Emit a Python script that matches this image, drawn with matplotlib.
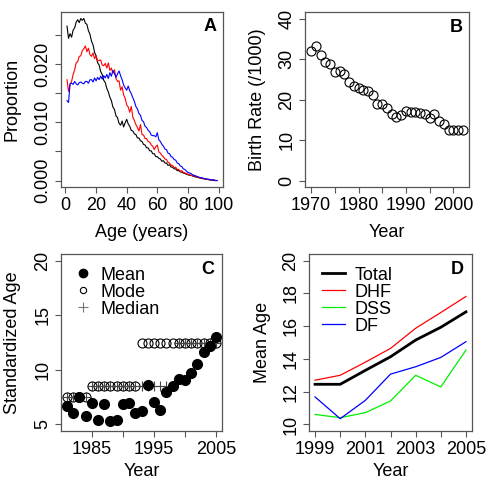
import matplotlib
matplotlib.use("Agg")
import matplotlib.pyplot as plt
import numpy as np
from matplotlib.lines import Line2D

plt.rcParams['font.family'] = ['Liberation Sans', 'DejaVu Sans']
plt.rcParams['font.size'] = 13

# panel A : age distribution (proportion by age)
ages = list(range(1, 100))
prop_black = [0.0265, 0.0244, 0.0252, 0.0246, 0.0258, 0.0262, 0.0272, 0.0276, 0.0271, 0.0278,
              0.0275, 0.0278, 0.0270, 0.0268, 0.0257, 0.0251, 0.0239, 0.0233, 0.0220, 0.0214,
              0.0202, 0.0198, 0.0187, 0.0182, 0.0172, 0.0168, 0.0158, 0.0152, 0.0143, 0.0137,
              0.0126, 0.0122, 0.0111, 0.0108, 0.0098, 0.0095, 0.0102, 0.0092, 0.0099, 0.0105,
              0.0097, 0.0093, 0.0086, 0.0085, 0.0080, 0.0079, 0.0073, 0.0073, 0.0068, 0.0067,
              0.0062, 0.0061, 0.0056, 0.0056, 0.0051, 0.0051, 0.0046, 0.0046, 0.0041, 0.0041,
              0.0038, 0.0037, 0.0033, 0.0034, 0.0030, 0.0030, 0.0026, 0.0027, 0.0023, 0.0023,
              0.0020, 0.0020, 0.0017, 0.0017, 0.0015, 0.0014, 0.0013, 0.0012, 0.0011, 0.0010,
              0.0009, 0.0009, 0.0008, 0.0007, 0.0006, 0.0006, 0.0005, 0.0004, 0.0004, 0.0003,
              0.0003, 0.0002, 0.0002, 0.0001, 0.0001, 0.0001, 0.0000, 0.0000, 0.0000]
prop_red = [0.0173, 0.0153, 0.0165, 0.0170, 0.0182, 0.0190, 0.0202, 0.0204, 0.0213, 0.0214,
            0.0223, 0.0226, 0.0231, 0.0221, 0.0227, 0.0216, 0.0213, 0.0219, 0.0209, 0.0214,
            0.0205, 0.0206, 0.0207, 0.0198, 0.0197, 0.0201, 0.0193, 0.0202, 0.0189, 0.0193,
            0.0184, 0.0190, 0.0175, 0.0170, 0.0171, 0.0155, 0.0161, 0.0147, 0.0141, 0.0130,
            0.0126, 0.0117, 0.0127, 0.0109, 0.0103, 0.0096, 0.0091, 0.0085, 0.0096, 0.0079,
            0.0078, 0.0072, 0.0072, 0.0067, 0.0066, 0.0061, 0.0059, 0.0053, 0.0058, 0.0061,
            0.0049, 0.0047, 0.0043, 0.0041, 0.0037, 0.0036, 0.0031, 0.0030, 0.0026, 0.0026,
            0.0022, 0.0023, 0.0019, 0.0019, 0.0016, 0.0017, 0.0014, 0.0013, 0.0012, 0.0011,
            0.0010, 0.0009, 0.0008, 0.0008, 0.0007, 0.0006, 0.0005, 0.0005, 0.0004, 0.0003,
            0.0003, 0.0002, 0.0002, 0.0002, 0.0001, 0.0001, 0.0001, 0.0000, 0.0000]
prop_blue = [0.0137, 0.0134, 0.0166, 0.0167, 0.0165, 0.0170, 0.0166, 0.0164, 0.0168, 0.0169,
             0.0167, 0.0166, 0.0170, 0.0170, 0.0167, 0.0173, 0.0173, 0.0169, 0.0176, 0.0171,
             0.0177, 0.0173, 0.0179, 0.0174, 0.0180, 0.0176, 0.0182, 0.0175, 0.0185, 0.0179,
             0.0189, 0.0184, 0.0177, 0.0183, 0.0188, 0.0180, 0.0173, 0.0164, 0.0159, 0.0155,
             0.0162, 0.0154, 0.0149, 0.0142, 0.0136, 0.0127, 0.0123, 0.0115, 0.0112, 0.0103,
             0.0101, 0.0093, 0.0091, 0.0086, 0.0084, 0.0078, 0.0077, 0.0077, 0.0075, 0.0082,
             0.0070, 0.0067, 0.0062, 0.0059, 0.0054, 0.0053, 0.0047, 0.0046, 0.0041, 0.0040,
             0.0036, 0.0035, 0.0030, 0.0029, 0.0025, 0.0024, 0.0020, 0.0019, 0.0016, 0.0014,
             0.0013, 0.0012, 0.0010, 0.0009, 0.0008, 0.0007, 0.0006, 0.0005, 0.0005, 0.0004,
             0.0003, 0.0003, 0.0002, 0.0002, 0.0001, 0.0001, 0.0001, 0.0000, 0.0000]

# panel B : crude birth rate
years_b = list(range(1970, 2003))
birth_rate = [32.1, 33.2, 31.1, 29.3, 28.7, 26.7, 27.1, 26.2, 24.4, 23.4, 22.8,
              22.3, 22.2, 21.2, 18.9, 19.0, 17.8, 16.4, 15.6, 16.1, 17.1, 17.0,
              16.9, 16.6, 16.4, 15.4, 16.4, 14.6, 14.0, 12.5, 12.5, 12.4, 12.4]

# panel C : standardized age
years_c = list(range(1981, 2006))
age_mean = [6.69, 6.07, 7.52, 5.74, 6.96, 5.43, 6.84, 5.31, 5.37, 6.84, 6.96, 6.07, 6.2,
            8.65, 7.06, 6.35, 7.98, 8.5, 9.14, 9.05, 9.72, 10.49, 11.6, 12.18, 12.98]
age_mode = [7.5]*4 + [8.5]*8 + [12.5]*13
age_median = [7.5]*4 + [8.5]*14 + [12.5]*7

# panel D : mean age by clinical type
years_d = list(range(1999, 2006))
mean_total = [12.45, 12.45, 13.3, 14.13, 15.15, 15.93, 16.87]
mean_dhf = [12.7, 13.0, 13.8, 14.64, 15.87, 16.83, 17.81]
mean_dss = [10.61, 10.41, 10.72, 11.43, 13.0, 12.29, 14.54]
mean_df = [11.68, 10.35, 11.47, 13.07, 13.52, 14.09, 15.05]

box_col = '#555555'


def rlim(lo, hi):
    # R style 4% padding
    d = (hi - lo)*0.04
    return lo - d, hi + d


def style(ax):
    for s in ax.spines.values():
        s.set_color(box_col)
        s.set_linewidth(0.9)
    ax.tick_params(direction='out', length=4, width=0.8, color=box_col, labelsize=13, pad=3)
    for lab in ax.get_yticklabels():
        lab.set_rotation(90)
        lab.set_va('center')


fig = plt.figure(figsize=(4.98, 4.87), dpi=100)

# A
ax = fig.add_axes([0.1225, 0.616, 0.3253, 0.3593])
ax.plot(ages, prop_black, color='black', lw=0.8)
ax.plot(ages, prop_red, color='red', lw=0.8)
ax.plot(ages, prop_blue, color='blue', lw=0.8)
ax.set_xlim(rlim(1, 99))
ax.set_ylim(rlim(0, 0.0278))
ax.set_xticks([0, 20, 40, 60, 80, 100])
yt = np.arange(0, 0.026, 0.005)
ax.set_yticks(yt)
ax.set_yticklabels(['0.000', '', '0.010', '', '0.020', ''])
ax.set_xlabel('Age (years)', va='center')
ax.set_ylabel('Proportion', va='center')
ax.xaxis.set_label_coords(0.5, -0.26)
ax.yaxis.set_label_coords(-0.30, 0.5)
ax.text(0.96, 0.92, 'A', transform=ax.transAxes, ha='right', va='center', fontweight='bold')
style(ax)

# B
ax = fig.add_axes([0.6124, 0.616, 0.3293, 0.3593])
ax.plot(years_b, birth_rate, 'o', mfc='none', mec='black', ms=6.5, mew=0.8)
ax.set_xlim(rlim(1970, 2002))
ax.set_ylim(rlim(0, 40))
ax.set_xticks(range(1970, 2001, 5))
ax.set_xticklabels(['1970', '', '1980', '', '1990', '', '2000'])
ax.set_yticks([0, 10, 20, 30, 40])
ax.set_xlabel('Year', va='center')
ax.set_ylabel('Birth Rate (/1000)', va='center')
ax.xaxis.set_label_coords(0.5, -0.26)
ax.yaxis.set_label_coords(-0.287, 0.5)
ax.text(0.96, 0.91, 'B', transform=ax.transAxes, ha='right', va='center', fontweight='bold')
style(ax)

# C
ax = fig.add_axes([0.1225, 0.115, 0.3233, 0.3634])
ax.plot(years_c, age_mode, 'o', mfc='none', mec='black', ms=6.5, mew=0.8)
ax.plot(years_c, age_median, '+', color='#444444', ms=7, mew=0.8)
ax.plot(years_c, age_mean, 'o', color='black', ms=7)
ax.set_xlim(rlim(1981, 2005))
ax.set_ylim(rlim(5, 20))
ax.set_xticks(range(1985, 2006, 5))
ax.set_xticklabels(['1985', '', '1995', '', '2005'])
ax.set_yticks([5, 10, 15, 20])
ax.set_xlabel('Year', va='center')
ax.set_ylabel('Standardized Age', va='center')
ax.xaxis.set_label_coords(0.5, -0.23)
ax.yaxis.set_label_coords(-0.30, 0.5)
ax.text(0.95, 0.91, 'C', transform=ax.transAxes, ha='right', va='center', fontweight='bold')
hc = [Line2D([], [], ls='none', marker='o', color='black', ms=6),
      Line2D([], [], ls='none', marker='o', mfc='none', mec='black', ms=4.5, mew=0.8),
      Line2D([], [], ls='none', marker='+', color='#777777', ms=7, mew=0.8)]
ax.legend(hc, ['Mean', 'Mode', 'Median'], loc='upper left', frameon=False,
          labelspacing=0.0, handlelength=1.0, handletextpad=0.5, borderaxespad=0.3,
          fontsize=13)
style(ax)

# D
ax = fig.add_axes([0.6205, 0.115, 0.3273, 0.3634])
ax.plot(years_d, mean_total, color='black', lw=2, label='Total')
ax.plot(years_d, mean_dhf, color='red', lw=0.9, label='DHF')
ax.plot(years_d, mean_dss, color='#00ee00', lw=0.9, label='DSS')
ax.plot(years_d, mean_df, color='blue', lw=0.9, label='DF')
ax.set_xlim(rlim(1999, 2005))
ax.set_ylim(rlim(10, 20))
ax.set_xticks(range(1999, 2006))
ax.set_xticklabels(['1999', '', '2001', '', '2003', '', '2005'])
ax.set_yticks([10, 12, 14, 16, 18, 20])
ax.set_xlabel('Year', va='center')
ax.set_ylabel('Mean Age', va='center')
ax.xaxis.set_label_coords(0.5, -0.23)
ax.yaxis.set_label_coords(-0.288, 0.5)
ax.text(0.95, 0.91, 'D', transform=ax.transAxes, ha='right', va='center', fontweight='bold')
ax.legend(loc='upper left', frameon=False, labelspacing=0.0, handlelength=1.3,
          handletextpad=0.5, borderaxespad=0.3, fontsize=13)
style(ax)

fig.savefig('out.png', dpi=100)
